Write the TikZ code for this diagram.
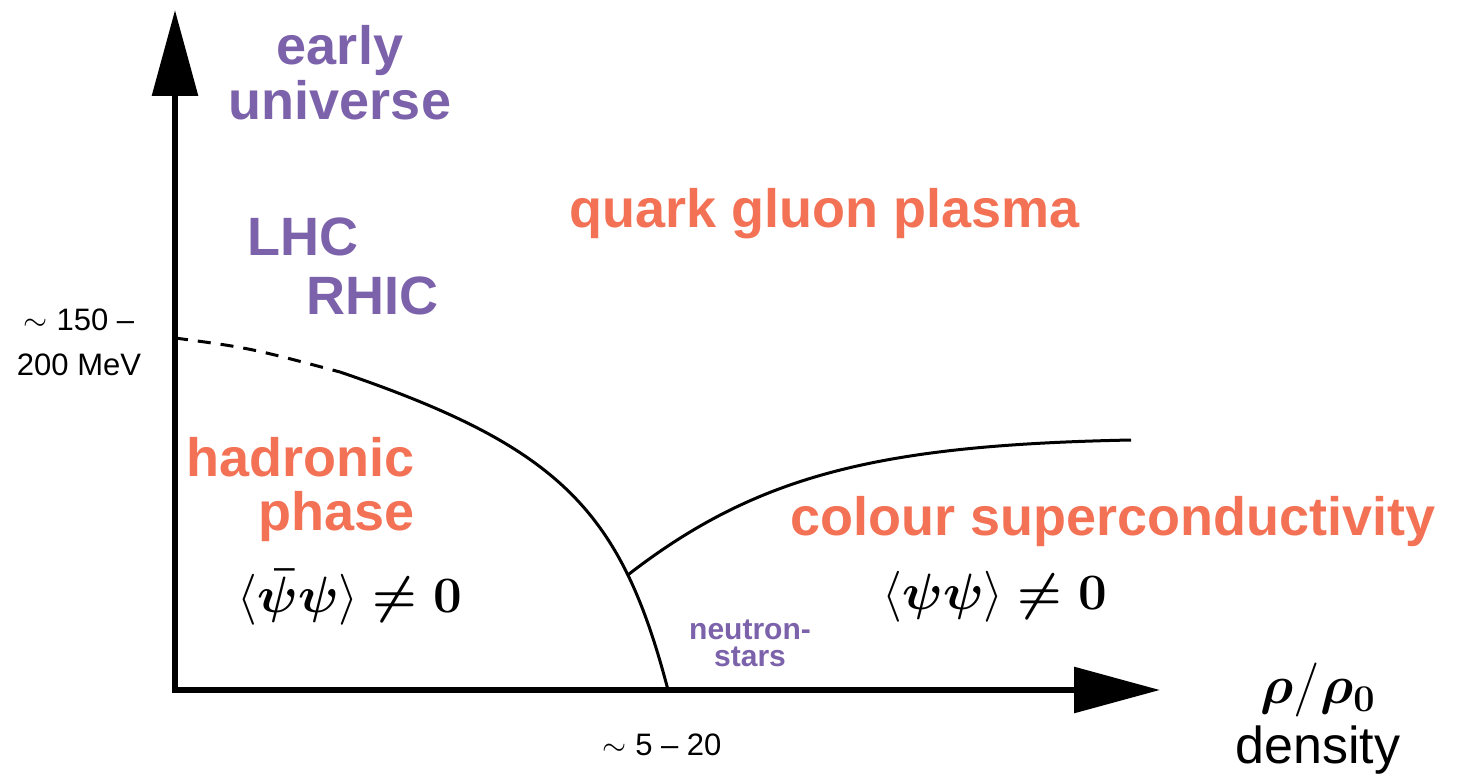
\RequirePackage{fix-cm}
\documentclass[tikz,border=0pt]{standalone}
\usepackage[no-math]{fontspec}
\setmainfont{Liberation Sans}
\usepackage{amsmath, amssymb}
\usepackage{tikz}
\definecolor{qgporange}{RGB}{243,113,85}
\definecolor{exppurple}{RGB}{124,98,170}
\usetikzlibrary{arrows.meta}

\begin{document}
\begin{tikzpicture}[x=1pt, y=-1pt,
				>={Triangle[length=86pt,width=45pt]},   %Pfeilspitzen der Achsen
				axis/.style={line width=6pt},
				border/.style={line width=3pt},
				phase/.style={text=qgporange, font={\fontsize{54}{54}\selectfont\bfseries}, inner sep=0pt, align=center},
				exper/.style={text=exppurple, font={\fontsize{54}{55}\selectfont\bfseries}, inner sep=0pt, align=center},
				tick/.style={font={\fontsize{31}{45}\selectfont}, inner sep=0pt, align=center},
				cond/.style={font={\fontsize{51}{51}\selectfont}, inner sep=0pt}]
				%Bildbereich
				\useasboundingbox (0,0) rectangle (1463,783);
				% Achsen zeichnen
				\coordinate (O) at (175,690);
				\coordinate (xend) at (1160,690);
				\coordinate (yend) at (175,10);
				\draw[axis,<->] (xend) -- (O) -- (yend);
				% Phasengrenzen
				\coordinate (Tc) at (175,338);
				\coordinate (crit) at (340,372);
				\coordinate (nuc) at (668,690);
				\coordinate (cscend) at (1131,440);
				\draw[border, dash pattern=on 13pt off 10pt] (Tc) .. controls (250,348) .. (crit);
				\draw[border] (crit) .. controls (560,447) and (621,510) .. coordinate[pos=0.75] (tri) (nuc);
				\draw[border] (tri) .. controls (758,474) and (881,445) .. (cscend);
				% Achsen beschriften
				\node[tick] (tlab) at (79,342) {$\sim$ 150 –\\200 MeV};
				\node[tick] (dlab) at (662,745) {$\sim$ 5 – 20};
				\node[cond, font={\fontsize{54}{54}\selectfont}] (rho) at (1318,690) {$\boldsymbol{\rho}/\boldsymbol{\rho_0}$};
				\node[font={\fontsize{52}{52}\selectfont}, inner sep=0pt] (dens) at (1318,750) {density};
				% Experimente
				\node[exper, anchor=base] (early) at (340,120) {early\\universe};
				\node[exper, anchor=base west] (lhc) at (247,256) {LHC};
				\node[exper, anchor=base west] (rhic) at (306,315) {RHIC};
				\node[text=exppurple, font={\fontsize{30}{27}\selectfont\bfseries}, inner sep=0pt, align=center] (nstar) at (750,643) {neutron-\\stars};
				% Phasen
				\node[phase, anchor=base west] (qgp) at (569,228) {quark gluon plasma};
				\node[phase, anchor=base east, align=right] (hadr) at (415,530) {hadronic\\phase};
				\node[phase, anchor=base west] (csc) at (790,535) {colour superconductivity};
				\node[cond] (chiral) at (350,597) {$\langle\boldsymbol{\bar\psi\psi}\rangle \boldsymbol{\neq 0}$};
				\node[cond] (diquark) at (995,597) {$\langle\boldsymbol{\psi\psi}\rangle \boldsymbol{\neq 0}$};
			\end{tikzpicture}
\end{document}
